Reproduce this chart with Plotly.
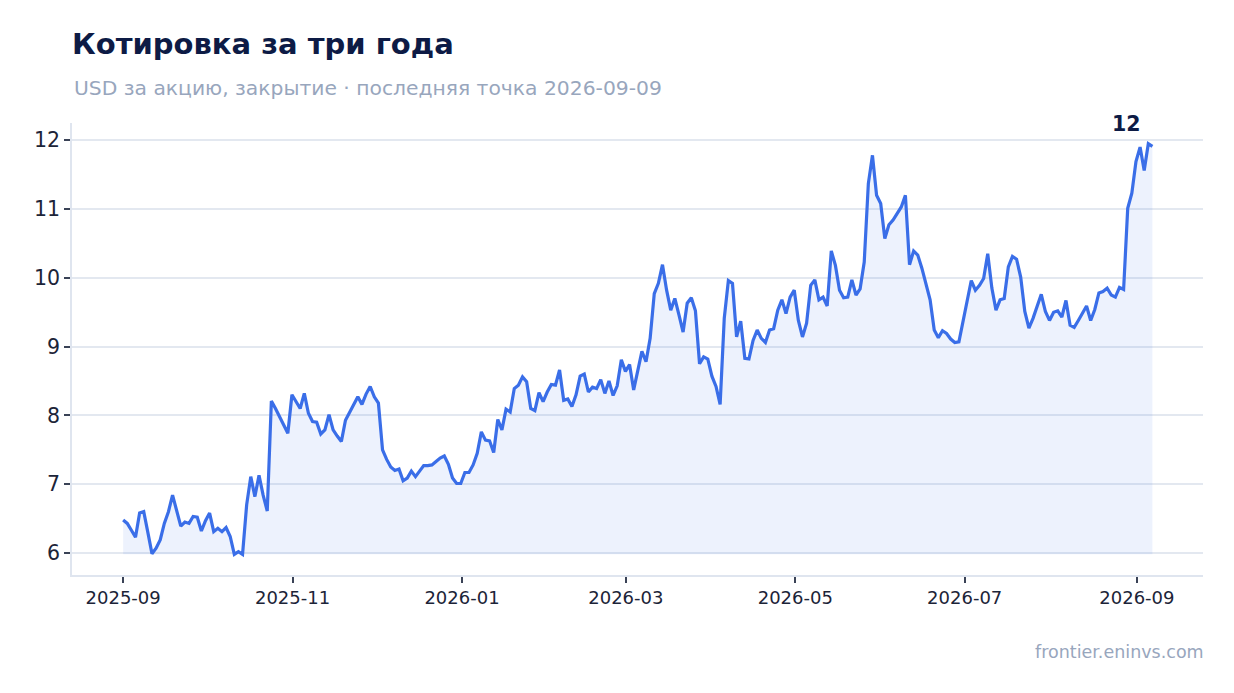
import plotly.graph_objects as go
import pandas as pd

# closing prices, one point roughly every 1.5 days
start_date = "2025-09-01"
end_date = "2026-09-06 14:00"
prices = [
    6.48, 6.43, 6.33, 6.23, 6.58, 6.60, 6.30, 5.99, 6.07, 6.19,
    6.43, 6.60, 6.84, 6.60, 6.39, 6.45, 6.43, 6.53, 6.52, 6.32,
    6.47, 6.58, 6.31, 6.36, 6.31, 6.37, 6.24, 5.98, 6.02, 5.98,
    6.70, 7.11, 6.82, 7.13, 6.84, 6.61, 8.21, 8.10, 7.98, 7.86,
    7.74, 8.30, 8.21, 8.10, 8.32, 8.03, 7.91, 7.90, 7.73, 7.79,
    8.01, 7.79, 7.70, 7.62, 7.93, 8.05, 8.16, 8.27, 8.16, 8.31,
    8.42, 8.27, 8.18, 7.50, 7.36, 7.25, 7.20, 7.22, 7.05, 7.09,
    7.19, 7.11, 7.19, 7.27, 7.27, 7.28, 7.33, 7.38, 7.41, 7.29,
    7.09, 7.01, 7.01, 7.17, 7.17, 7.28, 7.45, 7.76, 7.64, 7.63,
    7.46, 7.94, 7.79, 8.09, 8.05, 8.39, 8.44, 8.56, 8.49, 8.10,
    8.07, 8.33, 8.20, 8.34, 8.45, 8.44, 8.66, 8.22, 8.24, 8.13,
    8.30, 8.57, 8.60, 8.34, 8.41, 8.39, 8.52, 8.32, 8.50, 8.29,
    8.43, 8.81, 8.64, 8.74, 8.37, 8.68, 8.93, 8.78, 9.12, 9.77,
    9.92, 10.19, 9.82, 9.53, 9.70, 9.46, 9.21, 9.63, 9.71, 9.52,
    8.75, 8.85, 8.82, 8.57, 8.42, 8.16, 9.41, 9.96, 9.92, 9.14,
    9.37, 8.83, 8.82, 9.09, 9.24, 9.12, 9.06, 9.24, 9.26, 9.53,
    9.68, 9.48, 9.72, 9.82, 9.38, 9.14, 9.34, 9.89, 9.97, 9.68,
    9.72, 9.59, 10.39, 10.18, 9.82, 9.71, 9.72, 9.97, 9.75, 9.84,
    10.23, 11.37, 11.78, 11.20, 11.08, 10.57, 10.77, 10.84, 10.93, 11.03,
    11.20, 10.19, 10.39, 10.33, 10.14, 9.90, 9.68, 9.24, 9.13, 9.23,
    9.19, 9.11, 9.06, 9.07, 9.36, 9.65, 9.96, 9.82, 9.89, 9.99,
    10.35, 9.85, 9.53, 9.68, 9.70, 10.16, 10.31, 10.27, 10.01, 9.51,
    9.27, 9.41, 9.59, 9.76, 9.51, 9.38, 9.50, 9.52, 9.43, 9.67,
    9.31, 9.28, 9.38, 9.48, 9.59, 9.38, 9.54, 9.78, 9.80, 9.85,
    9.75, 9.72, 9.86, 9.83, 11.01, 11.23, 11.69, 11.90, 11.56, 11.95,
    11.91,
]
dates = pd.date_range(start_date, end_date, periods=len(prices))
base = min(prices)

y_ticks = [6, 7, 8, 9, 10, 11, 12]
x_ticks = ["2025-09-01", "2025-11-01", "2026-01-01", "2026-03-01",
           "2026-05-01", "2026-07-01", "2026-09-01"]
x_labels = ["2025-09", "2025-11", "2026-01", "2026-03", "2026-05", "2026-07", "2026-09"]

line_col = "#3a6ee8"
navy = "#0d1b45"
grey = "#98a6bd"
font = "DejaVu Sans"

fig = go.Figure()

# invisible baseline so the area fills down to the minimum price
fig.add_trace(go.Scatter(
    x=dates, y=[base] * len(prices),
    mode="lines", line=dict(width=0), hoverinfo="skip", showlegend=False,
))
fig.add_trace(go.Scatter(
    x=dates, y=prices,
    mode="lines", line=dict(color=line_col, width=3.2),
    fill="tonexty", fillcolor="rgba(58,110,232,0.09)",
    showlegend=False,
))

fig.update_layout(
    width=1234, height=693,
    margin=dict(l=64, r=39, t=115, b=126),
    paper_bgcolor="white", plot_bgcolor="white",
    font=dict(family=font, color="#1c2438"),
    title=dict(text="<b>Котировка за три года</b>", x=64 / 1234, xanchor="left",
               y=1 - 36 / 693, yanchor="middle",
               font=dict(size=29, color=navy, family=font)),
)

fig.update_xaxes(
    range=["2025-08-13 14:00", "2026-09-24 19:00"],
    tickvals=x_ticks, ticktext=x_labels,
    tickfont=dict(size=18, color="#1c2438"),
    showgrid=False, showline=True, linecolor="#dfe5ef", linewidth=1.5,
    ticks="outside", ticklen=6, tickcolor="#3a4256", tickwidth=1.5,
    zeroline=False,
)
fig.update_yaxes(
    range=[5.68, 12.25],
    tickvals=y_ticks,
    tickfont=dict(size=20.5, color="#1c2438"),
    showgrid=True, gridcolor="#e3e8f0", gridwidth=1.5,
    showline=True, linecolor="#dfe5ef", linewidth=1.5,
    ticks="outside", ticklen=6, tickcolor="#3a4256", tickwidth=1.5,
    zeroline=False,
)

fig.add_annotation(
    text="USD за акцию, закрытие · последняя точка 2026-09-09",
    xref="paper", yref="paper", x=0, y=1 + 35 / 452,
    xanchor="left", yanchor="middle", showarrow=False,
    font=dict(size=20.3, color=grey, family=font),
)
fig.add_annotation(
    text="frontier.eninvs.com",
    xref="paper", yref="paper", x=1, y=-77 / 452,
    xanchor="right", yanchor="middle", showarrow=False, xshift=3,
    font=dict(size=17.5, color=grey, family=font),
)
fig.add_annotation(
    text="<b>12</b>",
    x=dates[-1], y=prices[-1],
    xanchor="center", yanchor="bottom", showarrow=False,
    xshift=-26, yshift=8,
    font=dict(size=20.5, color=navy, family=font),
)

fig.write_html("out.html")
